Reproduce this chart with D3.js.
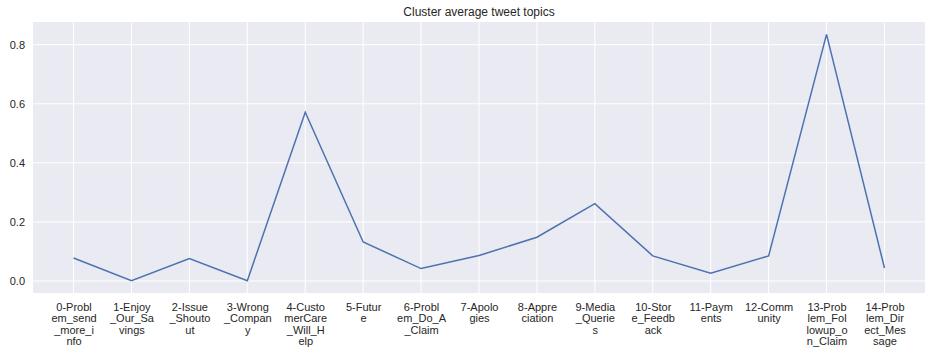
<!DOCTYPE html>
<meta charset="utf-8">
<style>
    body { margin: 0; background: #fff; }
    text { font-family: "Liberation Sans", Arial, sans-serif; fill: #262626; }
    .tick line { stroke: none; }
    .domain { display: none; }
</style>
<svg width="938" height="354"></svg>
<script src="https://d3js.org/d3.v7.min.js"></script>
<script>

    var topics = ["0-Problem_send_more_info", "1-Enjoy_Our_Savings", "2-Issue_Shoutout",
        "3-Wrong_Company", "4-CustomerCare_Will_Help", "5-Future", "6-Problem_Do_A_Claim",
        "7-Apologies", "8-Appreciation", "9-Media_Queries", "10-Store_Feedback",
        "11-Payments", "12-Community", "13-Problem_Followup_on_Claim",
        "14-Problem_Direct_Message"];
    var averages = [0.078, 0.001, 0.076, 0.001, 0.571, 0.132, 0.042, 0.086,
        0.148, 0.262, 0.085, 0.026, 0.085, 0.835, 0.044];
    var yTicks = [0.0, 0.2, 0.4, 0.6, 0.8];

    var svg = d3.select("svg"),
        margin = {top: 22, right: 13, bottom: 61, left: 33},
        width = +svg.attr("width") - margin.left - margin.right,
        height = +svg.attr("height") - margin.top - margin.bottom,
        g = svg.append("g").attr("transform",
            "translate(" + margin.left + "," + margin.top + ")");

    // matplotlib style 5% margins
    var n = topics.length;
    var x = d3.scaleLinear()
        .domain([-0.05 * (n - 1), (n - 1) * 1.05])
        .range([0, width]);
    var yMin = d3.min(averages), yMax = d3.max(averages), pad = (yMax - yMin) * 0.05;
    var y = d3.scaleLinear()
        .domain([yMin - pad, yMax + pad])
        .range([height, 0]);

    g.append("rect")
        .attr("width", width)
        .attr("height", height)
        .attr("fill", "#eaeaf2");

    // grid
    g.selectAll(".hgrid")
        .data(yTicks)
        .enter().append("line")
        .attr("x1", 0).attr("x2", width)
        .attr("y1", function (d) { return y(d); })
        .attr("y2", function (d) { return y(d); })
        .attr("stroke", "#fff").attr("stroke-width", 1);
    g.selectAll(".vgrid")
        .data(d3.range(n))
        .enter().append("line")
        .attr("y1", 0).attr("y2", height)
        .attr("x1", function (d) { return x(d); })
        .attr("x2", function (d) { return x(d); })
        .attr("stroke", "#fff").attr("stroke-width", 1);

    // y axis
    var yAxis = g.append("g")
        .call(d3.axisLeft(y).tickValues(yTicks).tickFormat(d3.format(".1f")).tickSize(0).tickPadding(8));
    yAxis.selectAll("text").style("font-size", "11px").style("fill", "#262626");

    // x axis with labels wrapped every 7 characters
    var xAxis = g.append("g")
        .attr("transform", "translate(0," + height + ")")
        .call(d3.axisBottom(x).tickValues(d3.range(n)).tickSize(0).tickFormat(""));
    xAxis.selectAll(".tick").each(function (d) {
        var name = topics[d], lines = [];
        for (var i = 0; i < name.length; i += 7) lines.push(name.slice(i, i + 7));
        var t = d3.select(this).append("text")
            .attr("text-anchor", "middle")
            .attr("y", 18)
            .style("font-size", "11px")
            .style("fill", "#262626");
        lines.forEach(function (l, i) {
            t.append("tspan").attr("x", 0).attr("dy", i ? 11.4 : 0).text(l);
        });
    });

    // line
    var line = d3.line()
        .x(function (d, i) { return x(i); })
        .y(function (d) { return y(d); });
    g.append("path")
        .datum(averages)
        .attr("fill", "none")
        .attr("stroke", "#4c72b0")
        .attr("stroke-width", 1.5)
        .attr("d", line);

    svg.append("text")
        .attr("x", margin.left + width / 2)
        .attr("y", 16)
        .attr("text-anchor", "middle")
        .style("font-size", "12px")
        .text("Cluster average tweet topics");
</script>
